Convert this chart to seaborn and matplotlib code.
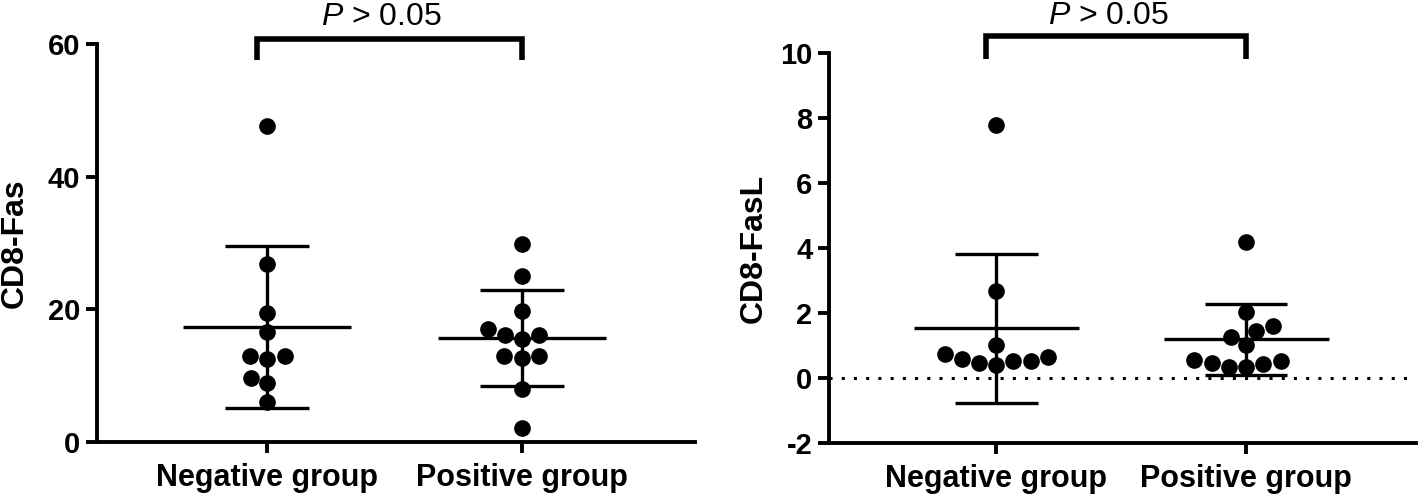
import numpy as np
import pandas as pd
import matplotlib
matplotlib.use("Agg")
import matplotlib.pyplot as plt
import seaborn as sns

# ===[ Data ]===
groups = ["Negative group", "Positive group"]

fas_negative = [47.7, 26.8, 19.4, 16.6, 13.0, 12.5, 13.0, 9.6, 8.9, 6.1]
fas_positive = [29.9, 25.0, 19.7, 17.0, 16.1, 15.6, 16.1, 13.0, 12.7, 13.0, 8.0, 2.1]

fasl_negative = [7.78, 2.69, 0.73, 0.58, 0.52, 0.39, 0.45, 0.53, 0.64, 1.02]
fasl_positive = [4.18, 2.03, 1.60, 1.44, 1.27, 1.02, 0.53, 0.43, 0.35, 0.35, 0.47, 0.57]

fas_ticks = [0, 20, 40, 60]
fasl_ticks = [-2, 0, 2, 4, 6, 8, 10]
p_label = r"$\it{P}$ > 0.05"

sns.set_style("ticks")
plt.rcParams["font.family"] = ["Liberation Sans", "DejaVu Sans"]
plt.rcParams["mathtext.fontset"] = "custom"
plt.rcParams["mathtext.it"] = "Liberation Sans:italic"
plt.rcParams["mathtext.rm"] = "Liberation Sans"
plt.rcParams["axes.unicode_minus"] = False
for key in ["text.color", "axes.labelcolor", "xtick.color", "ytick.color",
            "axes.edgecolor"]:
    plt.rcParams[key] = "black"


def make_frame(neg, pos):
    return pd.DataFrame({
        "group": [groups[0]] * len(neg) + [groups[1]] * len(pos),
        "value": list(neg) + list(pos),
    })


def draw_panel(ax, neg, pos, ylabel, yticks, ylim, label_x, bracket, text_y):
    df = make_frame(neg, pos)
    sns.swarmplot(data=df, x="group", y="value", order=groups, color="black",
                  size=12, ax=ax, zorder=3)
    # mean +/- SD
    for i, vals in enumerate([neg, pos]):
        m = np.mean(vals)
        sd = np.std(vals, ddof=1)
        ax.hlines(m, i - 0.33, i + 0.33, color="black", lw=2.4, zorder=4)
        ax.vlines(i, m - sd, m + sd, color="black", lw=2.4, zorder=4)
        ax.hlines([m - sd, m + sd], i - 0.165, i + 0.165, color="black",
                  lw=2.4, zorder=4)

    ax.set_xlim(-0.67, 1.68)
    ax.set_ylim(*ylim)
    ax.set_yticks(yticks)
    ax.set_xlabel("")
    ax.set_ylabel(ylabel, fontsize=23, fontweight="bold")
    ax.yaxis.set_label_coords(label_x, 0.5)
    for side in ["top", "right"]:
        ax.spines[side].set_visible(False)
    for side in ["left", "bottom"]:
        ax.spines[side].set_linewidth(2.8)
    ax.tick_params(axis="both", width=2.8, length=8, labelsize=21)
    ax.tick_params(axis="x", pad=7, labelsize=22)
    ax.tick_params(axis="y", pad=4)
    for lab in ax.get_xticklabels() + ax.get_yticklabels():
        lab.set_fontweight("bold")

    # significance bracket
    top, leg = bracket
    tr = ax.get_xaxis_transform()
    ax.plot([-0.04, -0.04, 1.0, 1.0], [leg, top, top, leg], color="black",
            lw=4, transform=tr, clip_on=False, solid_capstyle="butt",
            solid_joinstyle="miter")
    ax.text(0.45, text_y, p_label, transform=tr, ha="center", va="center",
            fontsize=23)


fig = plt.figure(figsize=(14.18, 4.94), dpi=100)
ax1 = fig.add_axes([0.0684, 0.105, 0.4215, 0.806])
ax2 = fig.add_axes([0.5846, 0.103, 0.4140, 0.790])

draw_panel(ax1, fas_negative, fas_positive, "CD8-Fas", fas_ticks, (0, 60),
           -0.112, (1.013, 0.96), 1.068)
draw_panel(ax2, fasl_negative, fasl_positive, "CD8-FasL", fasl_ticks, (-2, 10),
           -0.102, (1.043, 0.985), 1.095)
ax2.axhline(0, color="black", lw=2.2, ls=(0, (1, 3)), zorder=1)

fig.savefig("out.png", dpi=100)
